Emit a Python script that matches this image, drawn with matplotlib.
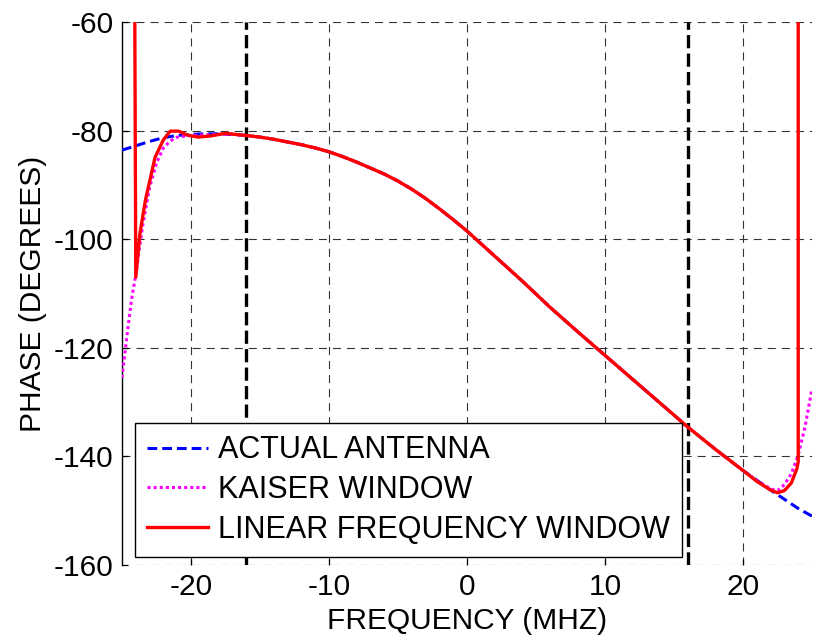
import matplotlib.pyplot as plt
import numpy as np

plt.rcParams['font.family'] = ['Liberation Sans', 'DejaVu Sans']
plt.rcParams['lines.scale_dashes'] = False
plt.rcParams['axes.unicode_minus'] = False

# Antenna phase response (shared middle section of all three curves)
freq_mid = [-16, -15, -14, -13, -12, -11, -10, -9, -8, -7, -6, -5, -4, -3, -2, -1, 0,
            1, 2, 3, 4, 6, 8, 10, 12, 14, 16, 18, 20]
phase_mid = [-80.9, -81.2, -81.6, -82.1, -82.6, -83.2, -83.9, -84.8, -85.8, -86.9,
             -88.0, -89.3, -90.8, -92.5, -94.4, -96.4, -98.5, -100.8, -103.1, -105.4,
             -107.7, -112.5, -117.0, -121.4, -125.8, -130.2, -134.6, -138.7, -142.6]

# Actual antenna edges
actual_left_f = [-25, -24, -23, -22, -21, -20, -19, -18, -17]
actual_left_p = [-83.6, -82.8, -82.0, -81.3, -80.9, -80.7, -80.6, -80.6, -80.7]
actual_right_f = [22, 24, 25]
actual_right_p = [-146.2, -149.6, -151.0]

# Kaiser window edges
kaiser_left_f = [-25, -24.6, -24.3, -24, -23.5, -23, -22.5, -22, -21.5, -21, -20, -19, -18, -17]
kaiser_left_p = [-125.5, -117.0, -111.0, -106.5, -97.5, -90.5, -86.0, -83.2, -81.9, -81.2,
                 -80.9, -80.8, -80.7, -80.7]
kaiser_right_f = [21, 22, 22.5, 23, 23.5, 24, 24.5, 25]
kaiser_right_p = [-144.4, -146.0, -146.3, -145.2, -143.2, -139.8, -134.5, -127.5]

# Linear frequency window edges
linear_left_f = [-24.1, -24.0, -23.7, -23.3, -22.6, -22.0, -21.5, -20.9, -20.3, -19.5,
                 -18.6, -17.5, -16.8]
linear_left_p = [-40.0, -107.0, -99.0, -92.8, -84.9, -81.7, -80.1, -80.1, -80.8, -81.2,
                 -81.0, -80.5, -80.7]
linear_right_f = [21, 22, 22.5, 23, 23.5, 23.9, 24.0, 24.0]
linear_right_p = [-144.6, -146.2, -146.7, -146.3, -144.9, -142.3, -141.0, -40.0]

# Band edges marked by vertical lines
band_edges = [-16, 16]

actual_f = actual_left_f + freq_mid + actual_right_f
actual_p = actual_left_p + phase_mid + actual_right_p
kaiser_f = kaiser_left_f + freq_mid + kaiser_right_f
kaiser_p = kaiser_left_p + phase_mid + kaiser_right_p
linear_f = linear_left_f + freq_mid + linear_right_f
linear_p = linear_left_p + phase_mid + linear_right_p

fig = plt.figure(figsize=(8.17, 6.41), dpi=100)
ax = fig.add_axes([0.1493, 0.1186, 0.8446, 0.8471])

ax.plot(actual_f, actual_p, color='#0000ff', lw=2.2, linestyle=(0, (7.0, 3.6)),
        label='ACTUAL ANTENNA', zorder=3)
ax.plot(kaiser_f, kaiser_p, color='#ff00ff', lw=2.2, linestyle=(0, (2.2, 2.2)),
        label='KAISER WINDOW', zorder=4)
ax.plot(linear_f, linear_p, color='#ff0000', lw=2.4, solid_joinstyle='round',
        label='LINEAR FREQUENCY WINDOW', zorder=5)

for xe in band_edges:
    ax.axvline(xe, color='black', lw=2.4, linestyle=(0, (9.5, 3.8)), zorder=2)

ax.set_xlim(-25, 25)
ax.set_ylim(-160, -60)
ax.set_xticks([-20, -10, 0, 10, 20])
ax.set_yticks(np.arange(-160, -59, 20))
ax.grid(True, color='0.2', lw=0.8, linestyle=(0, (5.8, 4.3)))

for side in ['top', 'right', 'bottom']:
    ax.spines[side].set_visible(False)
ax.spines['left'].set_linewidth(1.0)
ax.tick_params(direction='in', length=4.5, width=0.9, labelsize=21.5, pad=6)

ax.set_xlabel('FREQUENCY (MHZ)', fontsize=21.5, labelpad=4)
ax.set_ylabel('PHASE (DEGREES)', fontsize=21.5, labelpad=5)

leg = ax.legend(loc='lower left', bbox_to_anchor=(0.0188, 0.0147), borderaxespad=0,
                fontsize=22, fancybox=False, framealpha=1, edgecolor='black',
                handlelength=2.0, handletextpad=0.32, borderpad=0.4, labelspacing=0.32)
leg.get_frame().set_linewidth(1.0)
leg.set_zorder(6)

fig.savefig('out.png', dpi=100)
